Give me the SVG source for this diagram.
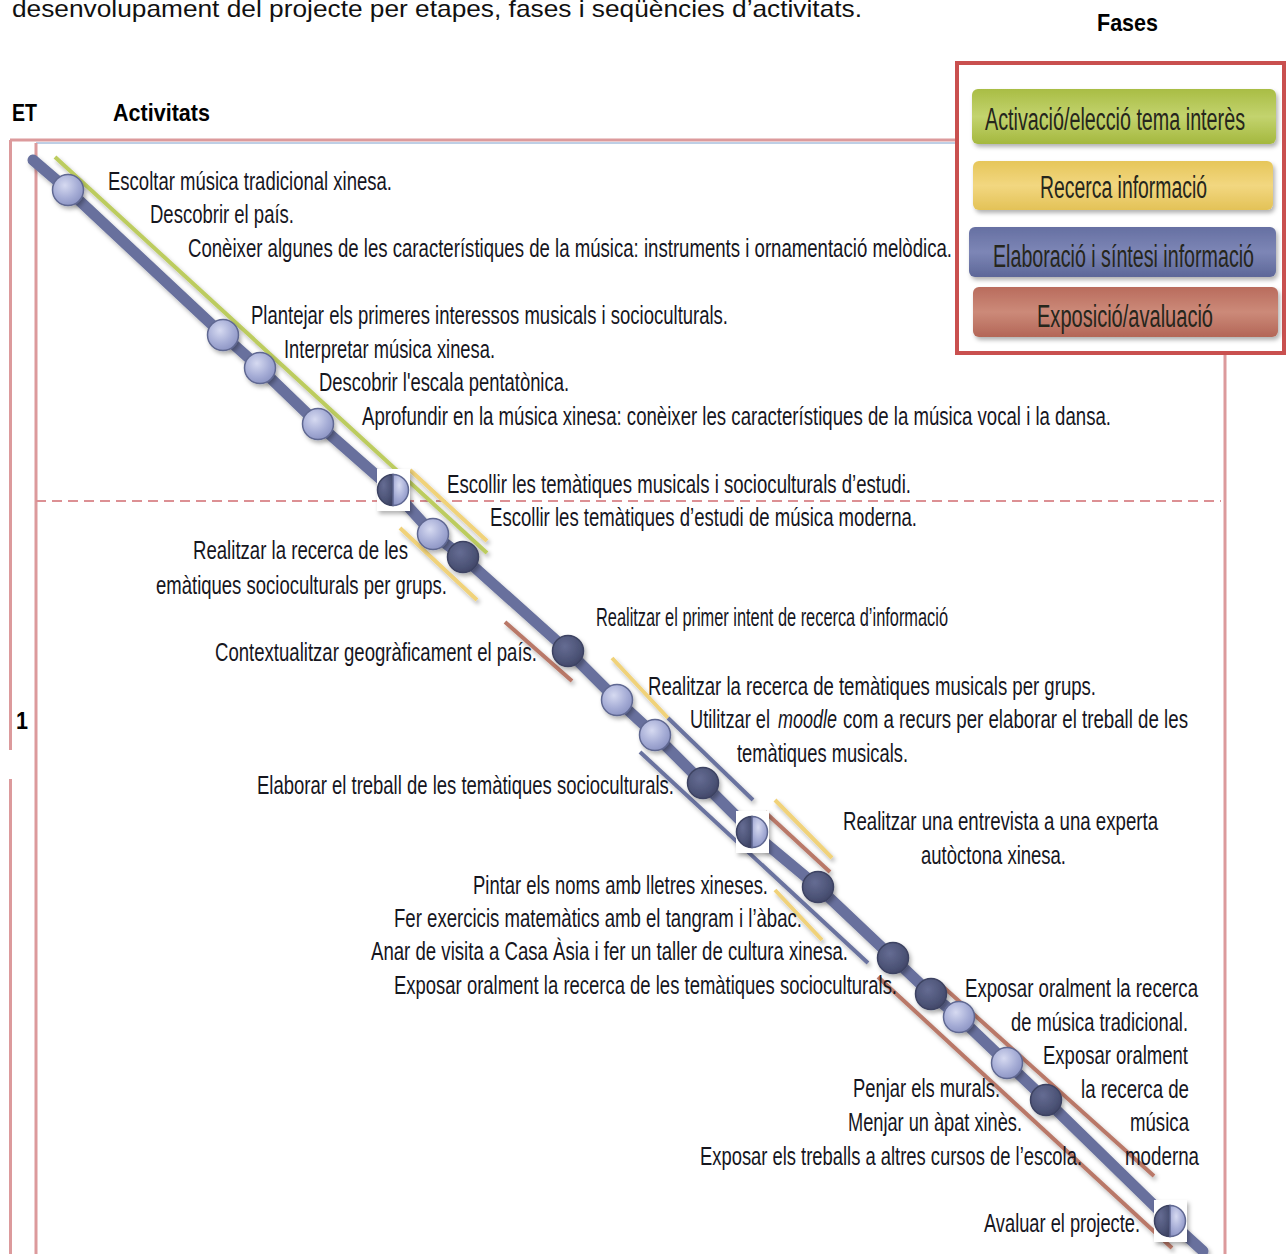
<svg xmlns="http://www.w3.org/2000/svg" width="1288" height="1254" viewBox="0 0 1288 1254">
<style>
.t{font-family:"Liberation Sans Narrow","Liberation Sans",Arial,sans-serif;font-size:26px;fill:#16161e}
.hd{font-family:"Liberation Sans Narrow","Liberation Sans",Arial,sans-serif;font-weight:bold;font-size:24px;fill:#000}
.lg{font-family:"Liberation Sans Narrow","Liberation Sans",Arial,sans-serif;font-size:31px;fill:#26261c}
.fr{stroke:#dc9a9c;stroke-width:3;fill:none}
.ph{stroke-width:4;fill:none}
.g{stroke:#bccc5e}.y{stroke:#f0d27a}.b{stroke:#6a739f}.r{stroke:#b97868}
.lt{fill:url(#lightG);stroke:#5f6791;stroke-width:1.5}
.dk{fill:url(#darkG);stroke:#3d4362;stroke-width:1.5}
</style>
<defs>
  <filter id="sh" filterUnits="userSpaceOnUse" x="0" y="0" width="1288" height="1254">
    <feDropShadow dx="2" dy="3" stdDeviation="2" flood-color="#000" flood-opacity="0.3"/>
  </filter>
  <radialGradient id="lightG" cx="0.4" cy="0.35" r="0.7">
    <stop offset="0" stop-color="#d6daf1"/>
    <stop offset="0.6" stop-color="#a6add6"/>
    <stop offset="1" stop-color="#8a92c2"/>
  </radialGradient>
  <radialGradient id="darkG" cx="0.4" cy="0.35" r="0.7">
    <stop offset="0" stop-color="#656c93"/>
    <stop offset="0.7" stop-color="#4c5376"/>
    <stop offset="1" stop-color="#3f4566"/>
  </radialGradient>
  <linearGradient id="gG" x1="0" y1="0" x2="0" y2="1">
    <stop offset="0" stop-color="#a9bd45"/><stop offset="0.5" stop-color="#c3d36e"/><stop offset="1" stop-color="#a4b83e"/>
  </linearGradient>
  <linearGradient id="yG" x1="0" y1="0" x2="0" y2="1">
    <stop offset="0" stop-color="#e6c65a"/><stop offset="0.5" stop-color="#f2d780"/><stop offset="1" stop-color="#e3c257"/>
  </linearGradient>
  <linearGradient id="bG" x1="0" y1="0" x2="0" y2="1">
    <stop offset="0" stop-color="#6670a2"/><stop offset="0.5" stop-color="#7d86b6"/><stop offset="1" stop-color="#5d6798"/>
  </linearGradient>
  <linearGradient id="rG" x1="0" y1="0" x2="0" y2="1">
    <stop offset="0" stop-color="#b96c5d"/><stop offset="0.5" stop-color="#cc8a79"/><stop offset="1" stop-color="#b36657"/>
  </linearGradient>
</defs>
<rect width="1288" height="1254" fill="#fff"/>

<!-- headings -->
<g id="headings">
  <text x="12" y="17" font-family="'Liberation Sans',Arial,sans-serif" font-size="24" fill="#111" textLength="850" lengthAdjust="spacingAndGlyphs">desenvolupament del projecte per etapes, fases i seqüències d’activitats.</text>
  <text class="hd" x="1097" y="31" textLength="61" lengthAdjust="spacingAndGlyphs">Fases</text>
  <text class="hd" x="12" y="121" textLength="25" lengthAdjust="spacingAndGlyphs">ET</text>
  <text class="hd" x="113" y="121" textLength="97" lengthAdjust="spacingAndGlyphs">Activitats</text>
  <text class="hd" x="16" y="729" textLength="12" lengthAdjust="spacingAndGlyphs">1</text>
</g>

<!-- table frame -->
<g id="frame">
  <line x1="10" y1="140" x2="956" y2="140" class="fr"/>
  <line x1="36" y1="143" x2="956" y2="143" stroke="#a9bfdc" stroke-width="1.5"/>
  <line x1="10.5" y1="140" x2="10.5" y2="750" class="fr"/>
  <line x1="10.5" y1="779" x2="10.5" y2="1254" class="fr"/>
  <line x1="36" y1="143" x2="36" y2="1254" class="fr"/>
  <line x1="1225" y1="355" x2="1225" y2="1254" class="fr"/>
  <line x1="36" y1="501" x2="1221" y2="501" stroke="#dc9094" stroke-width="2" stroke-dasharray="10 6"/>
</g>

<!-- phase legend -->
<g id="legend">
  <rect x="957" y="63" width="327" height="290" fill="#fff" stroke="#c9504f" stroke-width="4"/>
  <g id="phase-activacio">
    <rect x="972" y="89" width="304" height="55" rx="6" fill="url(#gG)" filter="url(#sh)"/>
    <text class="lg" x="985" y="130" textLength="260" lengthAdjust="spacingAndGlyphs">Activació/elecció tema interès</text>
  </g>
  <g id="phase-recerca">
    <rect x="973" y="161" width="300" height="49" rx="6" fill="url(#yG)" filter="url(#sh)"/>
    <text class="lg" x="1040" y="198" textLength="167" lengthAdjust="spacingAndGlyphs">Recerca informació</text>
  </g>
  <g id="phase-elaboracio">
    <rect x="969" y="227" width="307" height="50" rx="6" fill="url(#bG)" filter="url(#sh)"/>
    <text class="lg" x="993" y="267" textLength="261" lengthAdjust="spacingAndGlyphs" fill="#1c2040">Elaboració i síntesi informació</text>
  </g>
  <g id="phase-exposicio">
    <rect x="973" y="287" width="305" height="50" rx="6" fill="url(#rG)" filter="url(#sh)"/>
    <text class="lg" x="1037" y="327" textLength="176" lengthAdjust="spacingAndGlyphs" fill="#2a1414">Exposició/avaluació</text>
  </g>
</g>

<!-- timeline bar and phase bands -->
<g id="connectors" filter="url(#sh)">
  <line class="ph g" x1="55" y1="157" x2="487" y2="553"/>
  <line class="ph y" x1="410" y1="470" x2="487" y2="541"/>
  <line class="ph y" x1="400" y1="528" x2="477" y2="600"/>
  <line class="ph r" x1="505" y1="622" x2="572" y2="681"/>
  <line class="ph y" x1="612" y1="658" x2="668" y2="718"/>
  <line class="ph b" x1="668" y1="718" x2="753" y2="800"/>
  <line class="ph b" x1="640" y1="752" x2="868" y2="963"/>
  <line class="ph y" x1="775" y1="800" x2="832" y2="858"/>
  <line class="ph r" x1="765" y1="812" x2="830" y2="872"/>
  <line class="ph y" x1="775" y1="890" x2="822" y2="940"/>
  <line class="ph r" x1="940" y1="984" x2="1154" y2="1176"/>
  <line class="ph r" x1="878" y1="977" x2="1172" y2="1248"/>
  <polyline fill="none" stroke="#67709d" stroke-width="11" stroke-linecap="round" stroke-linejoin="round"
    points="33,160 68,190 223,335 260,368 318,424 393,490 433,534 463,557 568,651 617,700 655,735 703,783 752,832 818,887 893,958 931,994 959,1017 1007,1063 1046,1100 1170,1221 1203,1251"/>
</g>

<!-- milestones -->
<g id="milestones" filter="url(#sh)">
  <circle id="m01" class="lt" cx="68" cy="190" r="15.5"/>
  <circle id="m02" class="lt" cx="223" cy="335" r="15.5"/>
  <circle id="m03" class="lt" cx="260" cy="368" r="15.5"/>
  <circle id="m04" class="lt" cx="318" cy="424" r="15.5"/>
  <g id="m05">
    <rect x="377" y="469" width="33" height="42" fill="#fff"/>
    <path class="dk" d="M393,474.5 A15.5,15.5 0 0 0 393,505.5 Z"/>
    <path class="lt" d="M393,474.5 A15.5,15.5 0 0 1 393,505.5 Z"/>
  </g>
  <circle id="m06" class="lt" cx="433" cy="534" r="15.5"/>
  <circle id="m07" class="dk" cx="463" cy="557" r="15.5"/>
  <circle id="m08" class="dk" cx="568" cy="651" r="15.5"/>
  <circle id="m09" class="lt" cx="617" cy="700" r="15.5"/>
  <circle id="m10" class="lt" cx="655" cy="735" r="15.5"/>
  <circle id="m11" class="dk" cx="703" cy="783" r="15.5"/>
  <g id="m12">
    <rect x="736" y="811" width="33" height="42" fill="#fff"/>
    <path class="dk" d="M752,816.5 A15.5,15.5 0 0 0 752,847.5 Z"/>
    <path class="lt" d="M752,816.5 A15.5,15.5 0 0 1 752,847.5 Z"/>
  </g>
  <circle id="m13" class="dk" cx="818" cy="887" r="15.5"/>
  <circle id="m14" class="dk" cx="893" cy="958" r="15.5"/>
  <circle id="m15" class="dk" cx="931" cy="994" r="15.5"/>
  <circle id="m16" class="lt" cx="959" cy="1017" r="15.5"/>
  <circle id="m17" class="lt" cx="1007" cy="1063" r="15.5"/>
  <circle id="m18" class="dk" cx="1046" cy="1100" r="15.5"/>
  <g id="m19">
    <rect x="1154" y="1200" width="33" height="42" fill="#fff"/>
    <path class="dk" d="M1170,1205.5 A15.5,15.5 0 0 0 1170,1236.5 Z"/>
    <path class="lt" d="M1170,1205.5 A15.5,15.5 0 0 1 1170,1236.5 Z"/>
  </g>
</g>

<!-- activity labels -->
<g id="activities">
  <text class="t" x="108" y="190" textLength="284" lengthAdjust="spacingAndGlyphs">Escoltar música tradicional xinesa.</text>
  <text class="t" x="150" y="223" textLength="144" lengthAdjust="spacingAndGlyphs">Descobrir el país.</text>
  <text class="t" x="188" y="257" textLength="764" lengthAdjust="spacingAndGlyphs">Conèixer algunes de les característiques de la música: instruments i ornamentació melòdica.</text>
  <text class="t" x="251" y="324" textLength="477" lengthAdjust="spacingAndGlyphs">Plantejar els primeres interessos musicals i socioculturals.</text>
  <text class="t" x="284" y="358" textLength="211" lengthAdjust="spacingAndGlyphs">Interpretar música xinesa.</text>
  <text class="t" x="319" y="391" textLength="250" lengthAdjust="spacingAndGlyphs">Descobrir l'escala pentatònica.</text>
  <text class="t" x="362" y="425" textLength="749" lengthAdjust="spacingAndGlyphs">Aprofundir en la música xinesa: conèixer les característiques de la música vocal i la dansa.</text>
  <text class="t" x="447" y="493" textLength="464" lengthAdjust="spacingAndGlyphs">Escollir les temàtiques musicals i socioculturals d’estudi.</text>
  <text class="t" x="490" y="526" textLength="427" lengthAdjust="spacingAndGlyphs">Escollir les temàtiques d’estudi de música moderna.</text>
  <text class="t" x="193" y="559" textLength="215" lengthAdjust="spacingAndGlyphs">Realitzar la recerca de les</text>
  <text class="t" x="156" y="594" textLength="291" lengthAdjust="spacingAndGlyphs">emàtiques socioculturals per grups.</text>
  <text class="t" x="596" y="626" textLength="352" lengthAdjust="spacingAndGlyphs">Realitzar el primer intent de recerca d’informació</text>
  <text class="t" x="215" y="661" textLength="322" lengthAdjust="spacingAndGlyphs">Contextualitzar geogràficament el país.</text>
  <text class="t" x="648" y="695" textLength="448" lengthAdjust="spacingAndGlyphs">Realitzar la recerca de temàtiques musicals per grups.</text>
  <text class="t" x="690" y="728" textLength="80" lengthAdjust="spacingAndGlyphs">Utilitzar el</text>
  <text class="t" x="778" y="728" textLength="59" lengthAdjust="spacingAndGlyphs" font-style="italic">moodle</text>
  <text class="t" x="843" y="728" textLength="345" lengthAdjust="spacingAndGlyphs">com a recurs per elaborar el treball de les</text>
  <text class="t" x="737" y="762" textLength="171" lengthAdjust="spacingAndGlyphs">temàtiques musicals.</text>
  <text class="t" x="257" y="794" textLength="417" lengthAdjust="spacingAndGlyphs">Elaborar el treball de les temàtiques socioculturals.</text>
  <text class="t" x="843" y="830" textLength="315" lengthAdjust="spacingAndGlyphs">Realitzar una entrevista a una experta</text>
  <text class="t" x="921" y="864" textLength="145" lengthAdjust="spacingAndGlyphs">autòctona xinesa.</text>
  <text class="t" x="473" y="894" textLength="295" lengthAdjust="spacingAndGlyphs">Pintar els noms amb lletres xineses.</text>
  <text class="t" x="394" y="927" textLength="408" lengthAdjust="spacingAndGlyphs">Fer exercicis matemàtics amb el tangram i l’àbac.</text>
  <text class="t" x="371" y="960" textLength="477" lengthAdjust="spacingAndGlyphs">Anar de visita a Casa Àsia i fer un taller de cultura xinesa.</text>
  <text class="t" x="394" y="994" textLength="503" lengthAdjust="spacingAndGlyphs">Exposar oralment la recerca de les temàtiques socioculturals.</text>
  <text class="t" x="965" y="997" textLength="233" lengthAdjust="spacingAndGlyphs">Exposar oralment la recerca</text>
  <text class="t" x="1011" y="1031" textLength="177" lengthAdjust="spacingAndGlyphs">de música tradicional.</text>
  <text class="t" x="1043" y="1064" textLength="145" lengthAdjust="spacingAndGlyphs">Exposar oralment</text>
  <text class="t" x="853" y="1097" textLength="147" lengthAdjust="spacingAndGlyphs">Penjar els murals.</text>
  <text class="t" x="1081" y="1098" textLength="108" lengthAdjust="spacingAndGlyphs">la recerca de</text>
  <text class="t" x="848" y="1131" textLength="174" lengthAdjust="spacingAndGlyphs">Menjar un àpat xinès.</text>
  <text class="t" x="1130" y="1131" textLength="59" lengthAdjust="spacingAndGlyphs">música</text>
  <text class="t" x="700" y="1165" textLength="382" lengthAdjust="spacingAndGlyphs">Exposar els treballs a altres cursos de l’escola.</text>
  <text class="t" x="1125" y="1165" textLength="74" lengthAdjust="spacingAndGlyphs">moderna</text>
  <text class="t" x="984" y="1232" textLength="156" lengthAdjust="spacingAndGlyphs">Avaluar el projecte.</text>
</g>
</svg>
